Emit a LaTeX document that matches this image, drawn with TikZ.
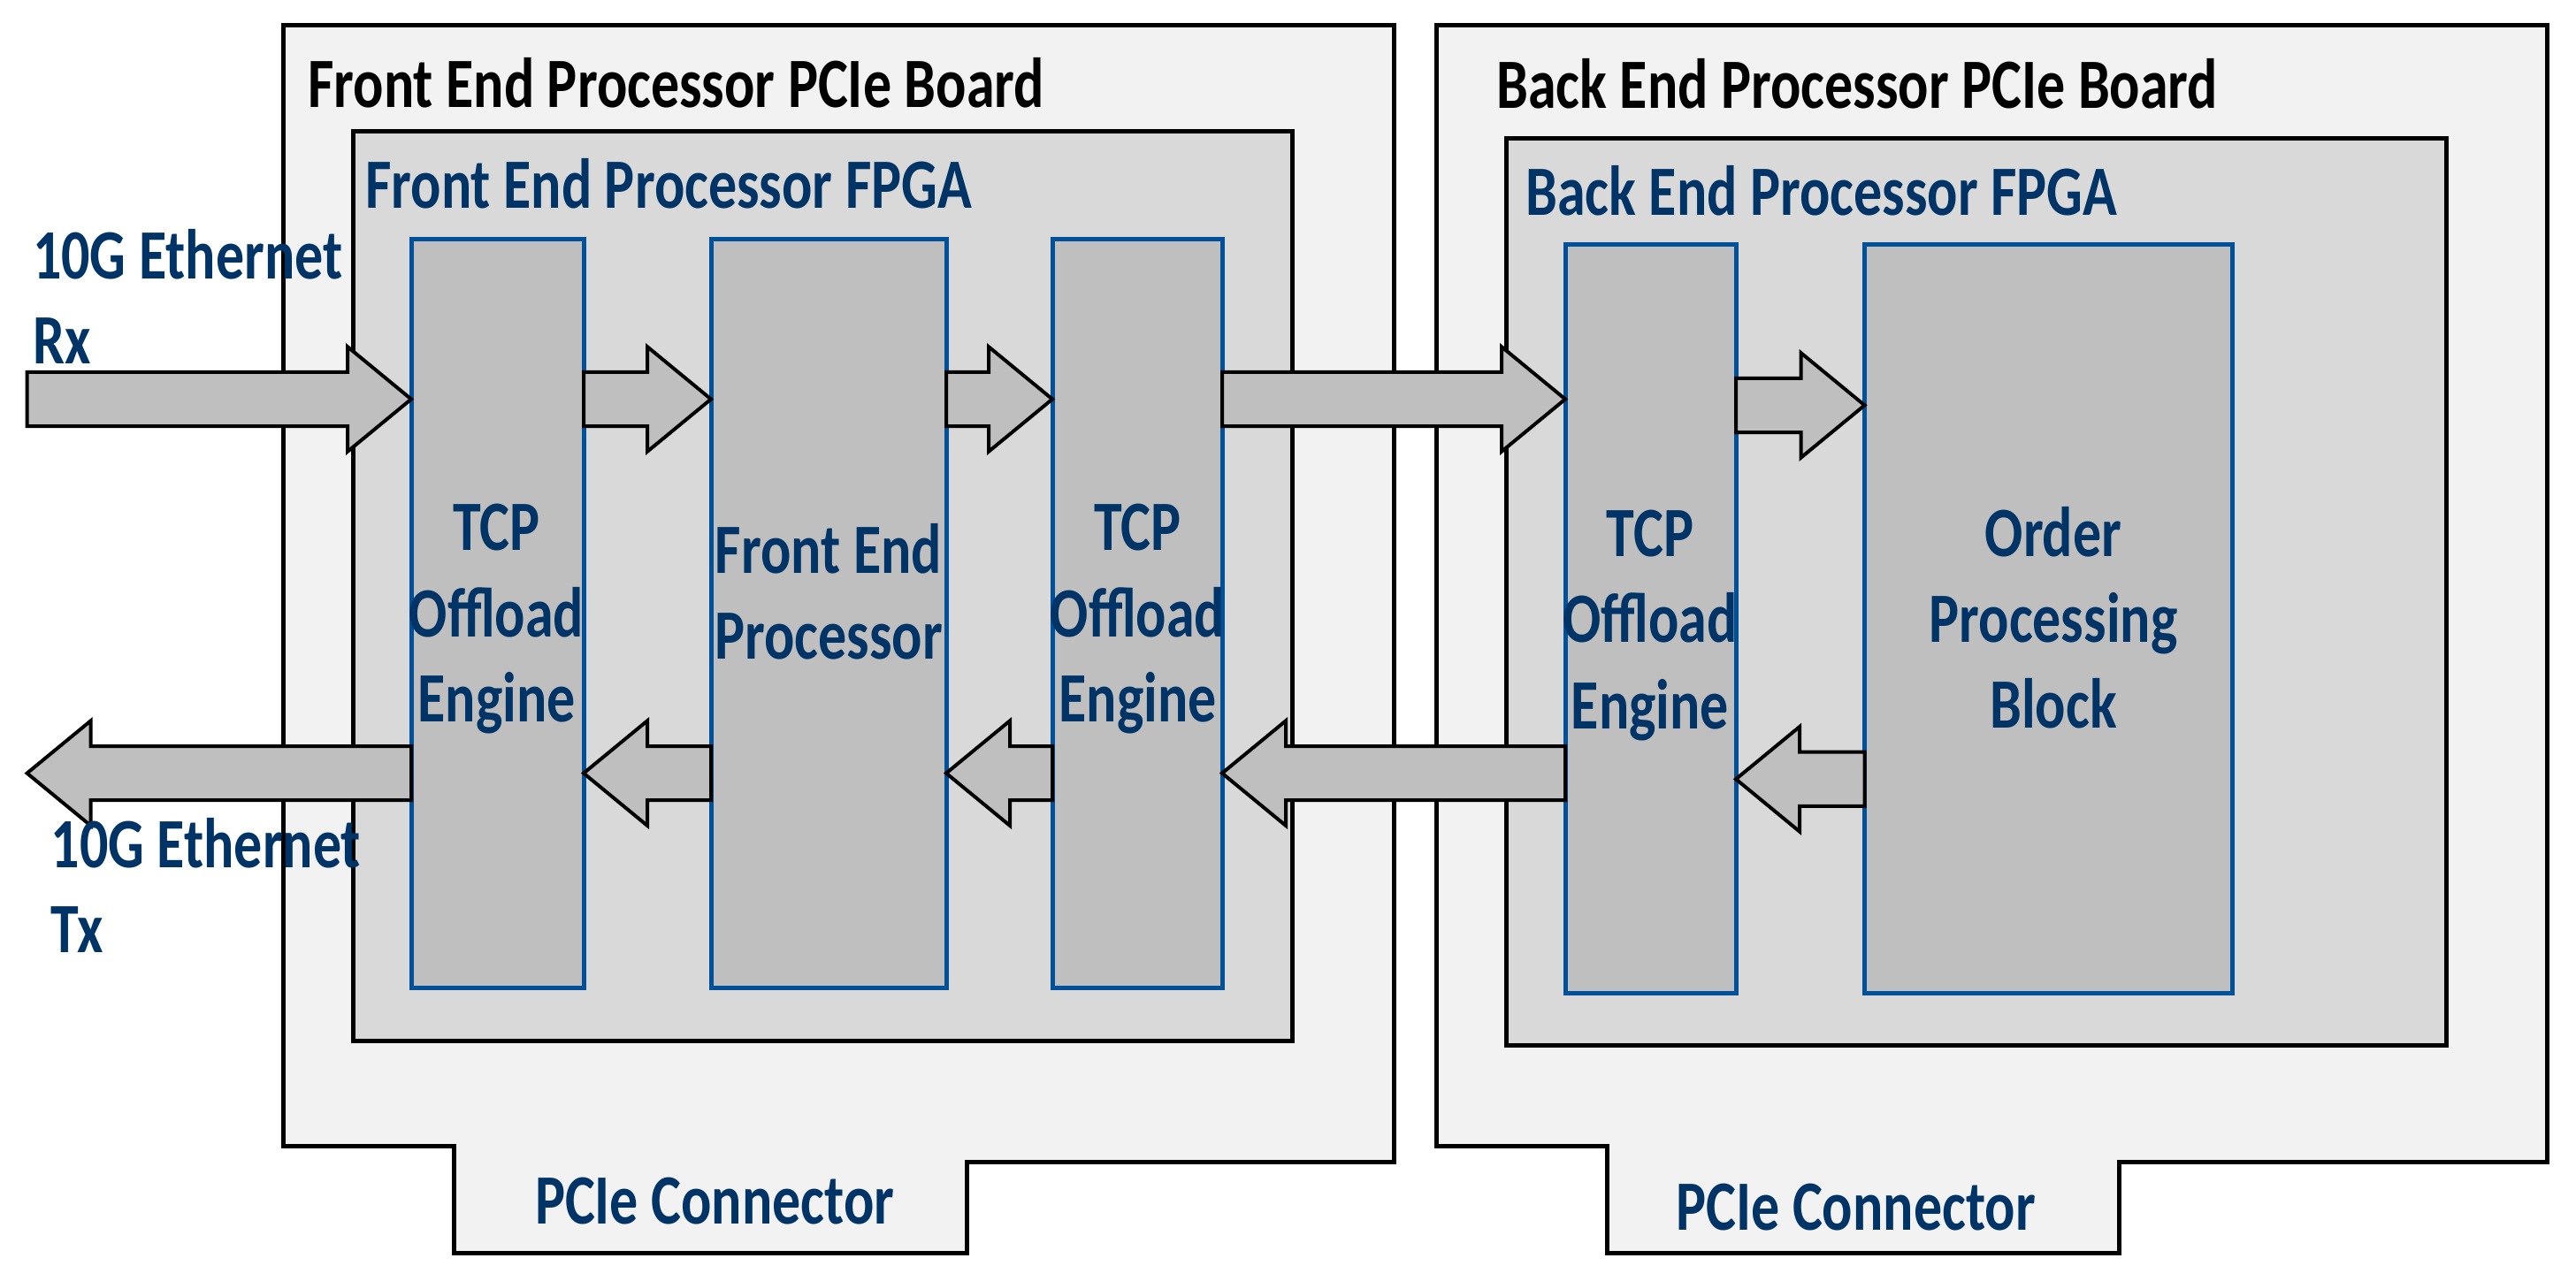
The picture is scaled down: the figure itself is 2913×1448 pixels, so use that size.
\documentclass[tikz,border=0pt]{standalone}
\usepackage{fontspec}
\newfontfamily\lblfont{Carlito}[FakeStretch=0.80]
\usetikzlibrary{calc,fit}
\definecolor{navy}{HTML}{003366}
\definecolor{boxblue}{HTML}{00509A}
\definecolor{boardfill}{HTML}{F2F2F2}
\definecolor{fpgafill}{HTML}{D9D9D9}
\definecolor{blkfill}{HTML}{BFBFBF}
\newcommand\flowright[3]{%
  \draw[flow] (#1 |- 0,#3-30.6) -- ($(#2 |- 0,#3-30.6)+(-72,0)$) -- ($(#2 |- 0,#3-59.3)+(-72,0)$)
    -- (#2 |- 0,#3) -- ($(#2 |- 0,#3+59.3)+(-72,0)$) -- ($(#2 |- 0,#3+30.6)+(-72,0)$)
    -- (#1 |- 0,#3+30.6) -- cycle;}
\newcommand\flowleft[3]{%
  \draw[flow] (#1 |- 0,#3-30.6) -- ($(#2 |- 0,#3-30.6)+(72,0)$) -- ($(#2 |- 0,#3-59.3)+(72,0)$)
    -- (#2 |- 0,#3) -- ($(#2 |- 0,#3+59.3)+(72,0)$) -- ($(#2 |- 0,#3+30.6)+(72,0)$)
    -- (#1 |- 0,#3+30.6) -- cycle;}
\begin{document}
\begin{tikzpicture}[x=0.5pt,y=-0.5pt,
  board/.style={draw=black,line width=2.5pt,fill=boardfill,line join=miter},
  fpga/.style={draw=black,line width=2.5pt,fill=fpgafill,inner sep=0pt,outer sep=0pt},
  blk/.style={draw=boxblue,line width=2.5pt,fill=blkfill,inner sep=0pt,outer sep=0pt},
  flow/.style={draw=black,line width=2pt,fill=blkfill,line join=miter},
  txt/.style={font=\lblfont\bfseries\fontsize{40}{48}\selectfont,text=navy,inner sep=0pt,anchor=base west},
  ctxt/.style={txt,anchor=base},
  ttl/.style={txt,text=black}]
\useasboundingbox (0,0) rectangle (2913,1448);
\fill[white] (0,0) rectangle (2913,1448);
% boards
\draw[board] (320,28.7) -- (1576,28.7) -- (1576,1314.5) -- (1093,1314.5) -- (1093,1417.7)
  -- (513,1417.7) -- (513,1296.6) -- (320,1296.6) -- cycle;
\draw[board] (1624,28.7) -- (2880,28.7) -- (2880,1314.5) -- (2396.6,1314.5) -- (2396.6,1417.7)
  -- (1817.4,1417.7) -- (1817.4,1296.6) -- (1624,1296.6) -- cycle;
% FPGAs
\node[fpga,fit={(399,148.5)(1461.5,1177.4)}] (ffpga) {};
\node[fpga,fit={(1703.5,156.1)(2766,1182.7)}] (bfpga) {};
% blocks
\node[blk,fit={(465,270)(660,1117)}] (tcp1) {};
\node[blk,fit={(804,270)(1070,1117)}] (fep) {};
\node[blk,fit={(1190,270)(1382,1117)}] (tcp2) {};
\node[blk,fit={(1770,276)(1963,1123)}] (tcp3) {};
\node[blk,fit={(2108.5,276)(2524.5,1123)}] (opb) {};
% free ends
\coordinate (rxin) at (30.6,451.5);
\coordinate (txout) at (30.6,874.6);
% flows
\flowright{rxin}{tcp1.west}{451.5}
\flowright{tcp1.east}{fep.west}{451.5}
\flowright{fep.east}{tcp2.west}{451.5}
\flowright{tcp2.east}{tcp3.west}{451.5}
\flowright{tcp3.east}{opb.west}{458.4}
\flowleft{opb.west}{tcp3.east}{881.3}
\flowleft{tcp3.west}{tcp2.east}{874.6}
\flowleft{tcp2.west}{fep.east}{874.6}
\flowleft{fep.west}{tcp1.east}{874.6}
\flowleft{tcp1.west}{txout}{874.6}
% titles
\node[ttl] (fbt) at (348,121.7) {Front End Processor PCIe Board};
\node[ttl] (bbt) at (1692,122.4) {Back End Processor PCIe Board};
\node[txt] (fft) at (413,235.3) {Front End Processor FPGA};
\node[txt] (bft) at (1725,243) {Back End Processor FPGA};
\node[txt] (rx1) at (36.7,315.7) {10G Ethernet};
\node[txt] (rx2) at (36.7,411.4) {Rx};
\node[txt] (tx1) at (57.4,981.5) {10G Ethernet};
\node[txt] (tx2) at (57.4,1077) {Tx};
\node[txt] (fpc) at (604.6,1384) {PCIe Connector};
\node[txt] (bpc) at (1895,1391) {PCIe Connector};
% block labels
\node[ctxt] (t1a) at (561.5,622.7) {TCP};
\node[ctxt] (t1b) at (561.5,720) {Offload};
\node[ctxt] (t1c) at (561.5,816.7) {Engine};
\node[ctxt] (fea) at (937,648.3) {Front End};
\node[ctxt] (feb) at (937,745.3) {Processor};
\node[ctxt] (t2a) at (1286.5,622.7) {TCP};
\node[ctxt] (t2b) at (1286.5,720) {Offload};
\node[ctxt] (t2c) at (1286.5,816.7) {Engine};
\node[ctxt] (t3a) at (1866,629.3) {TCP};
\node[ctxt] (t3b) at (1866,726.7) {Offload};
\node[ctxt] (t3c) at (1866,824) {Engine};
\node[ctxt] (opa) at (2322,629.3) {Order};
\node[ctxt] (opbb) at (2322,726) {Processing};
\node[ctxt] (opc) at (2322,823.3) {Block};
\end{tikzpicture}
\end{document}
